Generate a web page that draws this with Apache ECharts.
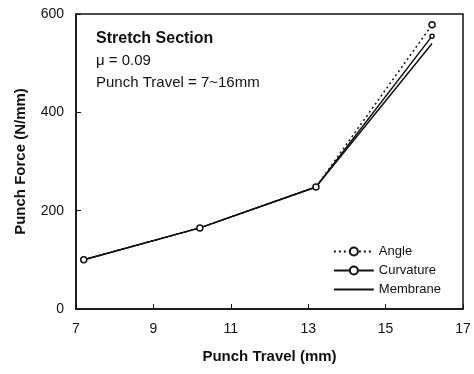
<!DOCTYPE html>
<html>
<head>
<meta charset="utf-8">
<script src="https://cdn.jsdelivr.net/npm/echarts@6/dist/echarts.min.js"></script>
<style>
html,body{margin:0;padding:0;background:#fff;}
#main{width:474px;height:374px;}
</style>
</head>
<body>
<div id="main"></div>
<script>
// data
var travel = [7.2, 10.2, 13.2, 16.2];
var angle = [100, 165, 248, 578];
var curvature = [100, 165, 248, 555];
var membrane = [100, 165, 248, 540];
var xTicks = [7, 9, 11, 13, 15, 17];
var yTicks = [0, 200, 400, 600];

function pairs(xs, ys){
	var out = [];
	for (var i = 0; i < xs.length; i++) out.push([xs[i], ys[i]]);
	return out;
}

var myChart = echarts.init(document.getElementById('main'));
var font = 'Liberation Sans, Arial, sans-serif';
option = {
	animation: false,
	textStyle: {fontFamily: font},
	grid: {left: 76, right: 11, top: 14, bottom: 65, show: true, borderColor: '#111', borderWidth: 1.5},
	graphic: [
		{type: 'text', left: 96, top: 31, style: {text: 'Stretch Section', font: 'bold 16px ' + font, fill: '#111'}},
		{type: 'text', left: 96, top: 53, style: {text: 'μ = 0.09', font: '15px ' + font, fill: '#111'}},
		{type: 'text', left: 96, top: 75, style: {text: 'Punch Travel = 7~16mm', font: '15px ' + font, fill: '#111'}}
	],
	legend: {
		right: 28, top: 240, orient: 'vertical', itemGap: 6, itemWidth: 40, itemHeight: 10,
		textStyle: {fontSize: 13, color: '#111', fontFamily: font},
		data: ['Angle', 'Curvature', {name: 'Membrane', itemStyle: {opacity: 0}}]
	},
	xAxis: {
		type: 'value', min: xTicks[0], max: xTicks[xTicks.length - 1], interval: 2,
		name: 'Punch Travel (mm)', nameLocation: 'middle', nameGap: 40,
		nameTextStyle: {fontWeight: 'bold', fontSize: 15, color: '#111'},
		axisLine: {lineStyle: {color: '#111', width: 1.5}},
		axisTick: {inside: true, length: 5, lineStyle: {color: '#111'}},
		axisLabel: {fontSize: 14, color: '#111', margin: 13},
		splitLine: {show: false}
	},
	yAxis: {
		type: 'value', min: yTicks[0], max: yTicks[yTicks.length - 1], interval: 200,
		name: 'Punch Force (N/mm)', nameLocation: 'middle', nameGap: 48,
		nameTextStyle: {fontWeight: 'bold', fontSize: 15, color: '#111'},
		axisLine: {lineStyle: {color: '#111', width: 1.5}},
		axisTick: {inside: true, length: 5, lineStyle: {color: '#111'}},
		axisLabel: {fontSize: 14, color: '#111', margin: 12},
		splitLine: {show: false}
	},
	series: [
		{
			name: 'Angle', type: 'line', data: pairs(travel, angle),
			symbol: 'circle', symbolSize: 6, z: 3,
			color: '#111',
			lineStyle: {color: '#111', width: 1.5, type: [2, 3]},
			itemStyle: {color: '#fff', borderColor: '#111', borderWidth: 1.5}
		},
		{
			name: 'Curvature', type: 'line', data: pairs(travel, curvature),
			symbol: 'circle', symbolSize: 4, z: 2,
			color: '#111',
			lineStyle: {color: '#111', width: 1.5},
			itemStyle: {color: '#fff', borderColor: '#111', borderWidth: 1.5}
		},
		{
			name: 'Membrane', type: 'line', data: pairs(travel, membrane),
			symbol: 'none', showSymbol: false,
			color: '#111',
			lineStyle: {color: '#111', width: 1.5}
		}
	]
};
myChart.setOption(option);
</script>
</body>
</html>
